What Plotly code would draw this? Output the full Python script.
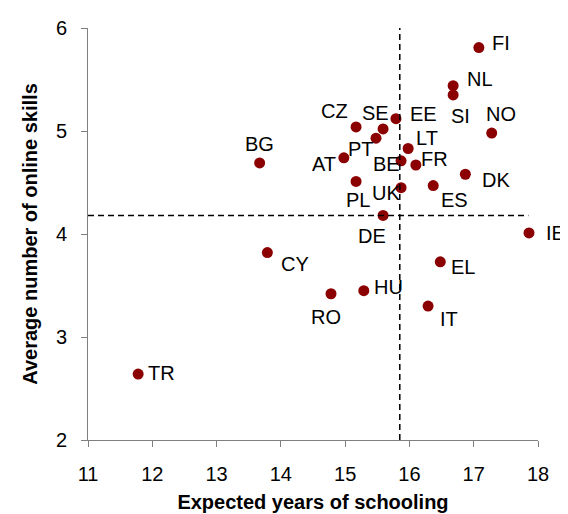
import plotly.graph_objects as go

# Country data: expected years of schooling vs. average number of online skills
countries = ["FI", "NL", "SI", "NO", "EE", "CZ", "SE", "PT", "LT", "AT", "BE", "FR",
             "BG", "DK", "PL", "UK", "ES", "DE", "IE", "CY", "EL", "HU", "RO", "IT", "TR"]
schooling = [17.08, 16.68, 16.68, 17.28, 15.79, 15.17, 15.59, 15.48, 15.98, 14.98, 15.87, 16.10,
             13.67, 16.87, 15.17, 15.87, 16.37, 15.59, 17.86, 13.79, 16.48, 15.29, 14.78, 16.29, 11.78]
skills = [5.81, 5.44, 5.35, 4.98, 5.12, 5.04, 5.02, 4.93, 4.83, 4.74, 4.71, 4.67,
          4.69, 4.58, 4.51, 4.45, 4.47, 4.18, 4.01, 3.82, 3.73, 3.45, 3.42, 3.30, 2.64]

# reference lines (averages)
mean_schooling = 15.85
mean_skills = 4.18
hline_end = 17.85

# label offsets in pixels (dx right, dy down)
label_offsets = {
    "FI": (22, -5), "NL": (27, -7), "SI": (7, 21), "NO": (9, -19), "EE": (28, -5),
    "CZ": (-22, -16), "SE": (-8, -16), "PT": (-15, 11), "LT": (19, -11), "AT": (-20, 6),
    "BE": (-15, 3), "FR": (19, -6), "BG": (0, -19), "DK": (31, 6), "PL": (2, 19),
    "UK": (-15, 5), "ES": (21, 14), "DE": (-11, 21), "IE": (26, 0), "CY": (28, 11),
    "EL": (23, 5), "HU": (25, -4), "RO": (-5, 23), "IT": (21, 13), "TR": (23, -1),
}

FONT = "Liberation Sans, Arial, sans-serif"

fig = go.Figure()
fig.add_trace(go.Scatter(
    x=schooling, y=skills, mode="markers",
    marker=dict(color="#8b0000", size=11, line=dict(width=0)),
    hovertext=countries, showlegend=False,
))

for c, xv, yv in zip(countries, schooling, skills):
    dx, dy = label_offsets[c]
    fig.add_annotation(x=xv, y=yv, text=c, showarrow=False,
                       xshift=dx, yshift=-dy,
                       font=dict(family=FONT, size=20, color="black"))

dash = dict(color="black", width=1.5, dash="6px,4px")
fig.add_shape(type="line", x0=11, x1=hline_end, y0=mean_skills, y1=mean_skills, line=dash)
fig.add_shape(type="line", x0=mean_schooling, x1=mean_schooling, y0=2, y1=6, line=dash)

axis_common = dict(
    showgrid=False, zeroline=False, showline=True, linecolor="#808080", linewidth=1,
    ticks="outside", ticklen=6, tickcolor="#808080",
    tickfont=dict(family=FONT, size=20, color="black"),
)
fig.update_xaxes(range=[11, 18], dtick=1, ticklabelstandoff=10,
                 title=dict(text="<b>Expected years of schooling</b>", standoff=10,
                            font=dict(family=FONT, size=20, color="black")),
                 **axis_common)
fig.update_yaxes(range=[2, 6], dtick=1, ticklabelstandoff=10,
                 title=dict(text="<b>Average number of online skills</b>", standoff=12,
                            font=dict(family=FONT, size=20, color="black")),
                 **axis_common)

fig.update_layout(
    width=568, height=514,
    margin=dict(l=80, r=38, t=20, b=82, autoexpand=False),
    plot_bgcolor="white", paper_bgcolor="white",
    font=dict(family=FONT),
)

fig.write_html("out.html")
